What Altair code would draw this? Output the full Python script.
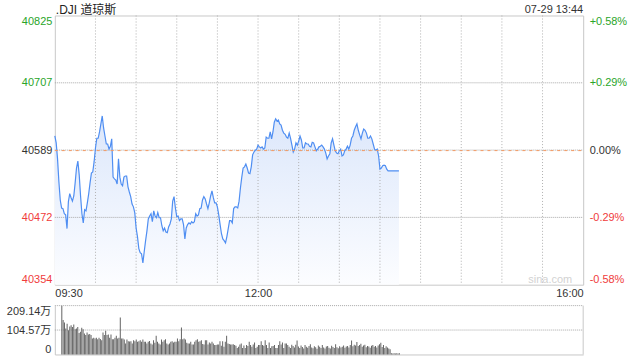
import json
import altair as alt
import pandas as pd

FONT = "Liberation Sans, Arial, Noto Sans CJK SC, sans-serif"
TITLE = ".DJI 道琼斯"
STAMP = "07-29 13:44"
WATERMARK = "sina.com"

PREV_CLOSE = 40589.3
PRICE_TICKS = [40353.9, 40471.6, 40589.3, 40707.0, 40824.7]
PRICE_LABELS = ["40354", "40472", "40589", "40707", "40825"]
PCT_LABELS = ["-0.58%", "-0.29%", "0.00%", "+0.29%", "+0.58%"]
TIME_GRID = [0, 30, 60, 90, 120, 150, 180, 210, 240, 270, 300, 330, 360, 390]
TIME_TICKS = [0, 150, 390]
TIME_LABELS = ["09:30", "12:00", "16:00"]
VOL_TICKS = [0, 104.57, 209.14]
VOL_LABELS = ["0", "104.57万", "209.14万"]

# one value per minute since 09:30
PRICE = [
    40614, 40602, 40574, 40534, 40502, 40488, 40487, 40478, 40476, 40452,
    40499, 40513, 40506, 40500, 40509, 40532, 40558, 40570, 40546, 40509,
    40478, 40462, 40485, 40483, 40497, 40513, 40532, 40549, 40551, 40569,
    40593, 40610, 40610, 40621, 40635, 40649, 40628, 40614, 40600, 40600,
    40591, 40596, 40609, 40542, 40539, 40537, 40530, 40574, 40542, 40530,
    40527, 40542, 40544, 40544, 40525, 40516, 40508, 40495, 40490, 40480,
    40453, 40438, 40417, 40410, 40408, 40392, 40412, 40431, 40448, 40469,
    40474, 40478, 40464, 40483, 40474, 40471, 40480, 40471, 40471, 40457,
    40448, 40453, 40446, 40445, 40455, 40460, 40469, 40500, 40508, 40488,
    40473, 40474, 40466, 40469, 40469, 40459, 40434, 40453, 40459, 40462,
    40460, 40464, 40462, 40464, 40478, 40474, 40476, 40487, 40488, 40502,
    40508, 40504, 40495, 40487, 40497, 40509, 40518, 40506, 40497, 40497,
    40490, 40476, 40459, 40443, 40434, 40431, 40427, 40438, 40452, 40466,
    40466, 40462, 40487, 40490, 40490, 40488, 40500, 40523, 40542, 40558,
    40560, 40565, 40558, 40549, 40548, 40560, 40581, 40586, 40589, 40591,
    40598, 40595, 40593, 40595, 40591, 40593, 40612, 40610, 40610, 40621,
    40609, 40621, 40638, 40644, 40640, 40642, 40635, 40633, 40624, 40619,
    40617, 40612, 40610, 40619, 40610, 40598, 40586, 40591, 40602, 40598,
    40605, 40614, 40607, 40593, 40593, 40602, 40600, 40600, 40596, 40595,
    40603, 40602, 40595, 40588, 40591, 40595, 40596, 40598, 40595, 40591,
    40584, 40574, 40579, 40583, 40602, 40609, 40598, 40588, 40584, 40583,
    40588, 40591, 40579, 40581, 40588, 40591, 40596, 40591, 40598, 40610,
    40614, 40624, 40630, 40635, 40624, 40616, 40609, 40619, 40626, 40624,
    40619, 40610, 40610, 40614, 40609, 40600, 40591, 40589, 40591, 40579,
    40556, 40558, 40562, 40563, 40562, 40556, 40553, 40553, 40553, 40553,
    40553, 40553, 40553, 40553, 40553,
]

# volume per minute, in 万
VOLUME = [
    209, 147, 137, 111, 132, 104, 120, 125, 118, 128,
    108, 111, 118, 92, 97, 114, 108, 90, 83, 94,
    85, 88, 83, 68, 71, 68, 71, 65, 71, 66,
    61, 94, 83, 101, 83, 85, 71, 85, 65, 65,
    71, 80, 68, 71, 158,
    68, 68, 64, 47, 64, 57, 55, 57, 47, 61,
    57, 64, 54, 57, 61, 54, 64, 54, 54, 47,
    54, 58, 47, 43, 61, 50, 80, 54, 47, 43,
    64, 54, 61, 65, 47, 43, 47, 54, 57, 51, 54,
    54, 68, 57, 65, 115, 65, 68, 64, 50, 47,
    47, 54, 43, 43, 54, 61, 65, 54, 57, 61, 45,
    43, 61, 61, 43, 51, 47, 54, 47, 40, 40,
    43, 43, 57, 37, 57, 33, 54, 80, 47, 45,
    43, 43, 44, 40, 37, 28, 33, 43, 47, 28, 38,
    28, 40, 36, 54, 40, 33, 43, 51, 28, 33,
    40, 40, 57, 40, 37, 61, 40, 28, 51, 28, 35,
    36, 40, 28, 28, 40, 57, 43, 51, 28, 47,
    47, 40, 33, 28,
    42,
    36, 30, 42, 60, 34, 28, 38, 32, 26, 40,
    33, 29, 36, 44, 30, 27, 35, 31, 24, 38,
    33, 28, 41, 30, 26, 34, 36, 29, 25, 37,
    32, 28, 44, 31, 27, 35, 30, 33, 38, 29,
    34, 36, 30, 40, 60, 35, 42, 38, 53, 36,
    40, 46, 33, 38, 42, 31, 36, 34, 29, 37,
    41, 33, 36, 30, 38, 44, 50, 32, 40, 28,
    35, 30, 26, 22,
    5, 4, 5, 4, 5, 4, 5,
]

MINUTE = list(range(len(PRICE)))

GREEN = "#2aa52a"
RED = "#f03c3c"
TXT = "#333333"
GRID = "#b0b0b0"
HGRID = "#a8a8a8"
BORDER = "#c8c8c8"
LINE = "#4f8ef2"
ORANGE = "#f39a62"
BAR = "#646464"
DOTS = [1, 2]
HDOTS = [1, 1]


def lookup(ticks, labels):
    t = json.dumps(ticks)
    l = json.dumps(labels, ensure_ascii=False)
    return f"indexof({t}, datum.value) >= 0 ? {l}[indexof({t}, datum.value)] : ''"


updown_color = {
    "condition": [
        {"test": f"datum.value > {PREV_CLOSE + 1}", "value": GREEN},
        {"test": f"datum.value < {PREV_CLOSE - 1}", "value": RED},
    ],
    "value": TXT,
}

price_df = pd.DataFrame({"minute": MINUTE, "price": PRICE})
vol_df = pd.DataFrame({"minute": list(range(len(VOLUME))), "volume": VOLUME})
one = pd.DataFrame({"a": [0]})

x_price = alt.X(
    "minute:Q",
    scale=alt.Scale(domain=[0, 390], nice=False, zero=False),
    axis=alt.Axis(
        values=TIME_GRID, labelExpr=lookup(TIME_TICKS, TIME_LABELS),
        labelFlush=True, labelOverlap=False, labelPadding=3, labelColor=TXT,
        labelFontSize=11, ticks=False, tickSize=0, domain=False,
        grid=False, title=None,
    ),
)
y_scale = alt.Scale(domain=[PRICE_TICKS[0], PRICE_TICKS[-1]], nice=False, zero=False)
y_left = alt.Axis(
    values=PRICE_TICKS, labelExpr=lookup(PRICE_TICKS, PRICE_LABELS),
    labelColor=updown_color, labelFlush=True, labelPadding=3, labelFontSize=11,
    ticks=False, tickSize=0, domain=False, grid=False, title=None,
)

area = alt.Chart(price_df).mark_area(
    color=alt.LinearGradient(
        gradient="linear",
        stops=[alt.GradientStop(offset=0, color="#dce7fb"),
               alt.GradientStop(offset=1, color="#fcfdff")],
        x1=1, x2=1, y1=0, y2=1,
    )
).encode(x=x_price, y=alt.Y("price:Q", scale=y_scale, axis=y_left),
         y2=alt.datum(PRICE_TICKS[0]))

hgrid = alt.Chart(pd.DataFrame({"level": PRICE_TICKS[1:-1]})).mark_rule(
    color=HGRID, strokeDash=HDOTS, strokeWidth=1
).encode(y=alt.Y("level:Q", scale=y_scale, axis=y_left),
         x=alt.value(0), x2=alt.value(530))

vgrid = alt.Chart(pd.DataFrame({"minute": TIME_GRID[1:-1]})).mark_rule(
    color=GRID, strokeDash=DOTS, strokeWidth=1
).encode(x=x_price, y=alt.value(0), y2=alt.value(270))

line = alt.Chart(price_df).mark_line(color=LINE, strokeWidth=1.2).encode(
    x=x_price, y=alt.Y("price:Q", scale=y_scale, axis=y_left))

base_rule = alt.Chart(pd.DataFrame({"level": [PREV_CLOSE]})).mark_rule(
    color=ORANGE, strokeDash=[3, 4], strokeWidth=1, yOffset=0.5
).encode(y=alt.Y("level:Q", scale=y_scale, axis=y_left),
         x=alt.value(0), x2=alt.value(530))

title_text = alt.Chart(pd.DataFrame({"t": [TITLE]})).mark_text(
    align="left", baseline="middle", fontSize=12, color="#222222"
).encode(text="t:N", x=alt.value(1), y=alt.value(-6))

stamp_text = alt.Chart(pd.DataFrame({"t": [STAMP]})).mark_text(
    align="right", baseline="middle", fontSize=11, color=TXT
).encode(text="t:N", x=alt.value(530), y=alt.value(-6))

mark_text = alt.Chart(pd.DataFrame({"t": [WATERMARK]})).mark_text(
    align="right", baseline="middle", fontSize=11, color="#d2d2d2"
).encode(text="t:N", x=alt.value(519), y=alt.value(265))

anchor_top = alt.Chart(one).mark_rule(strokeOpacity=0).encode(
    x=alt.value(-54), x2=alt.value(586), y=alt.value(-14))

right_axis = alt.Chart(pd.DataFrame({"p": PRICE_TICKS})).mark_point(opacity=0).encode(
    y=alt.Y("p:Q", scale=y_scale, axis=alt.Axis(
        orient="right", values=PRICE_TICKS, labelExpr=lookup(PRICE_TICKS, PCT_LABELS),
        labelColor=updown_color, labelFlush=True, labelPadding=6, labelFontSize=11,
        ticks=False, tickSize=0, domain=False, grid=False, title=None)))

price_chart = alt.layer(
    alt.layer(area, vgrid, hgrid, line, base_rule, title_text, stamp_text,
              mark_text, anchor_top),
    right_axis,
).resolve_scale(y="independent").properties(width=530, height=270)

x_vol = alt.X("minute:Q", scale=alt.Scale(domain=[0, 390], nice=False, zero=False),
              axis=alt.Axis(labels=False, ticks=False, tickSize=0, grid=False,
                            domain=True, domainColor=BORDER, title=None))
y_vol_scale = alt.Scale(domain=[VOL_TICKS[0], VOL_TICKS[-1]], nice=False)
y_vol_axis = alt.Axis(values=VOL_TICKS, labelExpr=lookup(VOL_TICKS, VOL_LABELS),
                      labelFlush=True, labelPadding=4, labelColor=TXT, labelFontSize=11,
                      ticks=False, tickSize=0, domain=True, domainColor=BORDER,
                      grid=False, title=None)

vol_grid = alt.Chart(pd.DataFrame({"level": VOL_TICKS[1:]})).mark_rule(
    color=HGRID, strokeDash=HDOTS, strokeWidth=1
).encode(y=alt.Y("level:Q", scale=y_vol_scale, axis=y_vol_axis),
         x=alt.value(0), x2=alt.value(530))

bars = alt.Chart(vol_df).mark_bar(size=1, color=BAR, xOffset=2).encode(
    x=x_vol, y=alt.Y("volume:Q", scale=y_vol_scale, axis=y_vol_axis))

right_border = alt.Chart(one).mark_rule(color=BORDER).encode(
    x=alt.value(530), y=alt.value(0), y2=alt.value(49))
anchor_bottom = alt.Chart(one).mark_rule(strokeOpacity=0).encode(
    x=alt.value(0), y=alt.value(0), y2=alt.value(55))

volume_chart = alt.layer(vol_grid, bars, right_border, anchor_bottom).properties(
    width=530, height=49, view=alt.ViewBackground(stroke="transparent"))

chart = alt.vconcat(price_chart, volume_chart, spacing=21, bounds="flush").properties(
    padding=0, background="white"
).configure(font=FONT).configure_view(stroke=BORDER, strokeWidth=1)

chart.save("out.html", embed_options={"renderer": "svg", "actions": False})
